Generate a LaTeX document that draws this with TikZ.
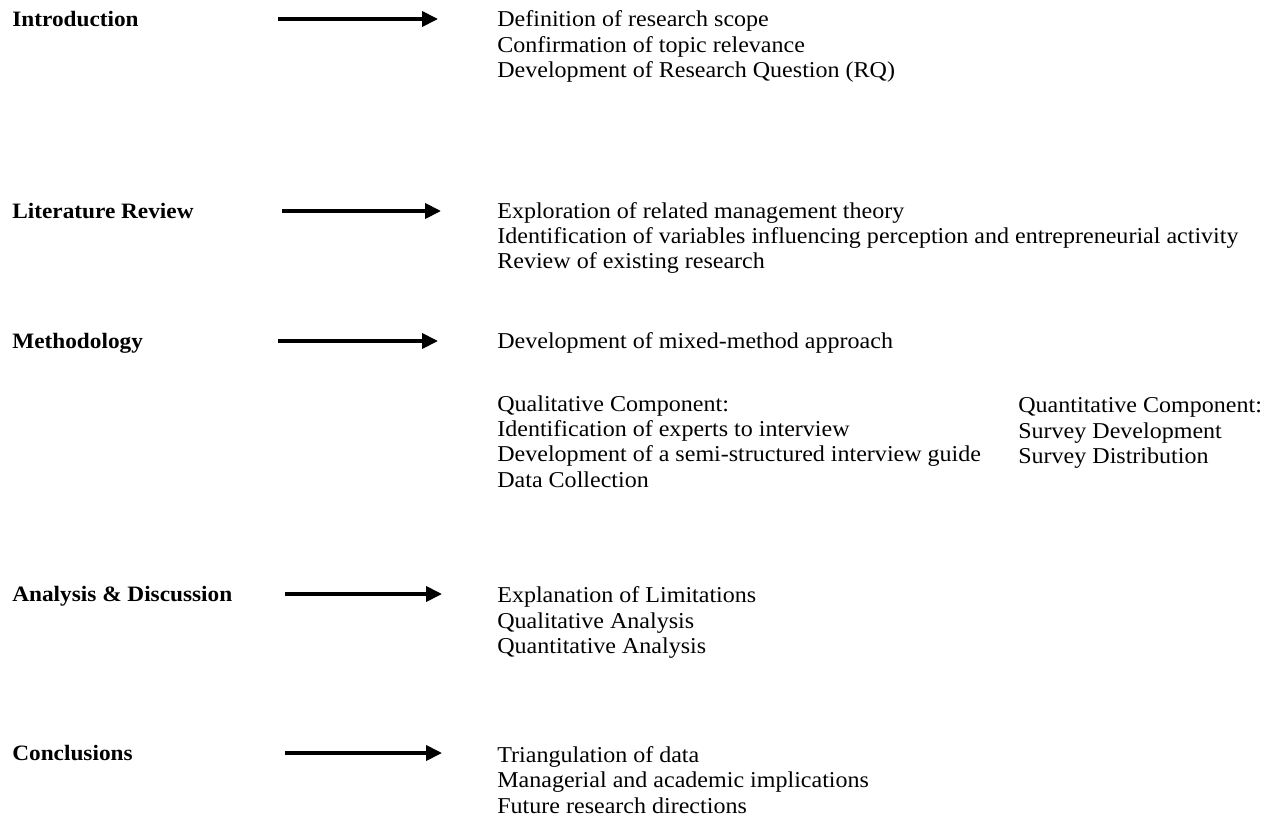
\documentclass[tikz,border=0pt]{standalone}
\usepackage{fontspec}
\setmainfont{Liberation Serif}
\newfontfamily\stepfont[FakeStretch=1.06]{Liberation Serif}
\usetikzlibrary{arrows.meta}

\tikzset{
  stage/.style={anchor=west,inner sep=0pt,text height=1.5ex,text depth=.25ex,
    font=\stepfont\bfseries\fontsize{12.5}{14.4}\selectfont},
  items/.style={anchor=west,inner sep=0pt,align=left,font=\stepfont\fontsize{12.9}{14.4}\selectfont},
  lead/.style={line width=2pt,-{Triangle[length=9pt,width=8.5pt]}}
}

\begin{document}
\begin{tikzpicture}[x=0.02cm,y=-0.02cm]
\useasboundingbox (0,0) rectangle (1275,825);

\node[stage] (intro) at (12,21) {Introduction};
\node[stage] (litrev) at (12,213) {Literature Review};
\node[stage] (method) at (12,343) {Methodology};
\node[stage] (analysis) at (12,596) {Analysis \& Discussion};
\node[stage] (concl) at (12,755) {Conclusions};

\coordinate (intro-s) at (278,19);
\coordinate (intro-e) at (438,19);
\coordinate (litrev-s) at (282,211);
\coordinate (litrev-e) at (441,211);
\coordinate (method-s) at (278,341);
\coordinate (method-e) at (438,341);
\coordinate (analysis-s) at (285,594);
\coordinate (analysis-e) at (442,594);
\coordinate (concl-s) at (285,753);
\coordinate (concl-e) at (442,753);

\draw[lead] (intro-s) -- (intro-e);
\draw[lead] (litrev-s) -- (litrev-e);
\draw[lead] (method-s) -- (method-e);
\draw[lead] (analysis-s) -- (analysis-e);
\draw[lead] (concl-s) -- (concl-e);

\node[items] (intro-list) at (497,46.5) {Definition of research scope\\
Confirmation of topic relevance\\
Development of Research Question (RQ)};

\node[items] (litrev-list) at (497,238) {Exploration of related management theory\\
Identification of variables influencing perception and entrepreneurial activity\\
Review of existing research};

\node[items] (method-list) at (497,343) {Development of mixed-method approach};

\node[items] (qual-list) at (497,441.5) {Qualitative Component:\\
Identification of experts to interview\\
Development of a semi-structured interview guide\\
Data Collection};

\node[items] (quant-list) at (1018,433) {Quantitative Component:\\
Survey Development\\
Survey Distribution};

\node[items] (analysis-list) at (497,622.5) {Explanation of Limitations\\
Qualitative Analysis\\
Quantitative Analysis};

\node[items] (concl-list) at (497,780) {Triangulation of data\\
Managerial and academic implications\\
Future research directions};
\end{tikzpicture}
\end{document}
